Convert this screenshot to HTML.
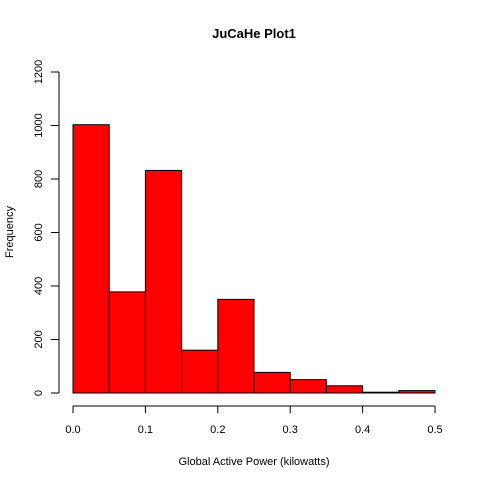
<!DOCTYPE html>
<html><head><meta charset="utf-8"><style>
body{margin:0;background:#fff;}
svg{display:block;font-family:"Liberation Sans",Arial,sans-serif;}
</style></head><body>
<svg id="chart" width="480" height="480">
<text x="254" y="38" text-anchor="middle" font-weight="bold" font-size="13">JuCaHe Plot1</text>
<text x="254" y="465" text-anchor="middle" font-size="11">Global Active Power (kilowatts)</text>
<text transform="translate(13,232) rotate(-90)" text-anchor="middle" font-size="11">Frequency</text>
<g id="bars"></g>
<g id="axes"></g>
</svg>
<script>
const binEdges = [0,0.05,0.1,0.15,0.2,0.25,0.3,0.35,0.4,0.45,0.5];
const counts = [1003,378,832,160,350,77,50,27,3,9];
const xTicks = [0,0.1,0.2,0.3,0.4,0.5];
const xTickLabels = ["0.0","0.1","0.2","0.3","0.4","0.5"];
const yTicks = [0,200,400,600,800,1000,1200];

const NS="http://www.w3.org/2000/svg";
const xs=v=>73+v*(435-73)/0.5;
const ys=v=>393-v*(393-72)/1200;
const bars=document.getElementById('bars');
const axes=document.getElementById('axes');
function mk(tag,attrs,parent){const e=document.createElementNS(NS,tag);for(const k in attrs)e.setAttribute(k,attrs[k]);parent.appendChild(e);return e;}
counts.forEach((c,i)=>{
  const r=mk('rect',{x:xs(binEdges[i]),y:ys(c),width:xs(binEdges[i+1])-xs(binEdges[i]),height:ys(0)-ys(c),fill:'#ff0000',stroke:'#000','stroke-width':1},bars);
  
  
});
const xl=mk('line',{x1:xs(0),x2:xs(0.5),y1:406,y2:406,stroke:'#000'},axes);


xTicks.forEach((t,i)=>{
  mk('line',{x1:xs(t),x2:xs(t),y1:406,y2:413,stroke:'#000'},axes);
  const tx=mk('text',{x:xs(t),y:433,'text-anchor':'middle','font-size':11},axes);
  tx.textContent=xTickLabels[i];
  
  
});
const yl=mk('line',{x1:59,x2:59,y1:ys(0),y2:ys(1200),stroke:'#000'},axes);


yTicks.forEach(t=>{
  mk('line',{x1:51,x2:59,y1:ys(t),y2:ys(t),stroke:'#000'},axes);
  const tx=mk('text',{transform:`translate(42,${ys(t)}) rotate(-90)`,'text-anchor':'middle','font-size':11},axes);
  tx.textContent=t;
  
  
});
</script>
</body></html>
